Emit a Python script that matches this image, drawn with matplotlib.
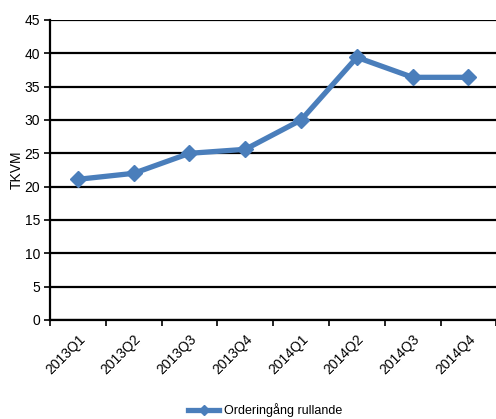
import matplotlib
matplotlib.use("Agg")
import matplotlib.pyplot as plt
from matplotlib.ticker import FixedLocator

# données
kvartal = ["2013Q1", "2013Q2", "2013Q3", "2013Q4", "2014Q1", "2014Q2", "2014Q3", "2014Q4"]
orderingang = [21.1, 22.0, 25.0, 25.6, 30.0, 39.4, 36.4, 36.4]
y_ticks = [0, 5, 10, 15, 20, 25, 30, 35, 40, 45]

plt.rcParams['font.family'] = ['Liberation Sans Narrow', 'Liberation Sans', 'DejaVu Sans']

fig = plt.figure(figsize=(4.96, 4.19), dpi=100)
ax = fig.add_axes([0.1008, 0.2363, 0.9, 0.7160])

x = list(range(len(kvartal)))
ax.plot(x, orderingang, color='#4A7EBB', linewidth=3.8, marker='D', markersize=8,
        markeredgecolor='#4A7EBB', label='Orderingång rullande', zorder=3)

ax.set_xlim(-0.5, len(kvartal) - 0.5)
ax.set_ylim(0, 45)
ax.set_yticks(y_ticks)
ax.yaxis.grid(True, color='black', linewidth=1.6)
ax.set_axisbelow(True)

# étiquettes au centre, traits entre les catégories
ax.set_xticks(x)
ax.set_xticklabels(kvartal, rotation=45, ha='right', va='top', rotation_mode='anchor', fontsize=10)
ax.xaxis.set_minor_locator(FixedLocator([i - 0.5 for i in range(len(kvartal) + 1)]))
ax.tick_params(axis='x', which='major', length=0, pad=9)
ax.tick_params(axis='x', which='minor', length=4, width=1.2, direction='out')
ax.tick_params(axis='y', length=4, width=1.2, labelsize=10, pad=3)

for s in ['top', 'right']:
    ax.spines[s].set_visible(False)
ax.spines['left'].set_linewidth(1.6)
ax.spines['bottom'].set_linewidth(1.6)

ax.set_ylabel("TKVM", fontsize=10, labelpad=1)

fig.legend(loc='lower center', bbox_to_anchor=(0.535, -0.022), frameon=False, fontsize=9,
           handlelength=2.5, handletextpad=0.4, markerscale=0.6)

fig.savefig("out.png", dpi=100)
